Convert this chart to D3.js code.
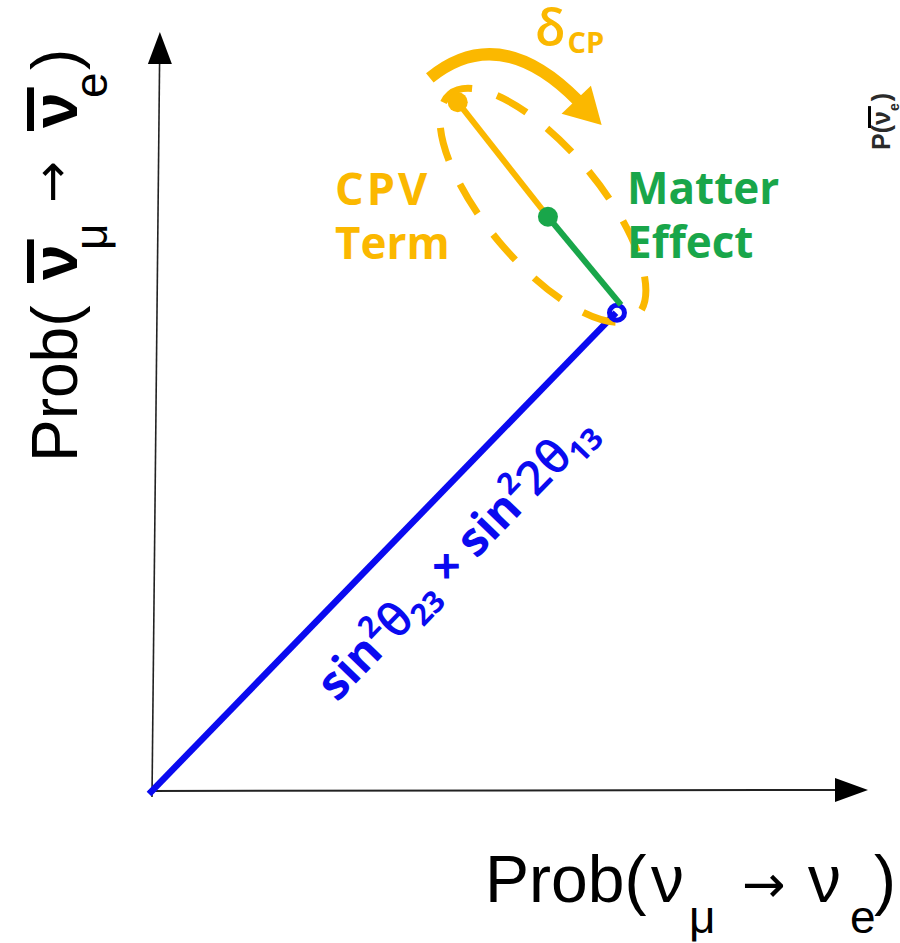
<!DOCTYPE html>
<html><head><meta charset="utf-8">
<script src="https://cdn.jsdelivr.net/npm/d3@7"></script>
<style>body{margin:0;background:#fff}svg{display:block}</style>
</head><body>
<svg id="c" width="900" height="943"></svg>
<script>
// ---- data (diagram coordinates, 1 unit = x-axis length) ----
const origin = [0, 0];
const xAxisTip = [1.0, 0.0014];
const yAxisTip = [0.011, 1.060];
const baseVector = [0.648, 0.668];      // sin²θ23 × sin²2θ13
const matterStart = [0.655, 0.679];
const matterEnd = [0.553, 0.802];       // matter effect
const cpvEnd = [0.427, 0.962];          // CPV term
const ellipseCenter = [0.546, 0.818];
const ellipseRadii = [0.2025, 0.0796];
const ellipseAngle = 50;                // degrees, screen rotation
const deltaArc = [[0.388, 0.996], [0.485, 1.075], [0.594, 0.965]];
const deltaHead = [[0.628, 0.930], [0.572, 0.946], [0.613, 0.985]];
const formulaLabel = ["sin", "2", "θ", "23", " × ", "sin", "2", "2θ", "13"];
const formulaRole  = ["n", "sup", "n", "sub", "n", "n", "sup", "n", "sub"];

const ORANGE = "#fbb800", GREEN = "#19a64a", BLUE = "#0a0af0";

const svg = d3.select("#c");
const x = d3.scaleLinear().domain([0, 1]).range([152, 868]);
const y = d3.scaleLinear().domain([0, 1]).range([791, 75]);
const P = p => [x(p[0]), y(p[1])];
const unit = x(1) - x(0);

// ---- axes ----
const ax = svg.append("g");
ax.append("line").attr("x1", x(0) - 4).attr("y1", y(0)).attr("x2", x(xAxisTip[0]) - 32).attr("y2", y(xAxisTip[1]))
  .attr("stroke", "#222").attr("stroke-width", 2);
{
  const [tx, ty] = P(xAxisTip);
  ax.append("path").attr("d", `M${tx},${ty} L${tx-33},${ty-12} L${tx-33},${ty+12} Z`).attr("fill", "#000");
}
ax.append("line").attr("x1", x(0)).attr("y1", y(0) + 6).attr("x2", x(yAxisTip[0]) - 0.3).attr("y2", y(yAxisTip[1]) + 30)
  .attr("stroke", "#222").attr("stroke-width", 1.6);
{
  const [tx, ty] = P(yAxisTip);
  ax.append("path").attr("d", `M${tx},${ty} L${tx-12},${ty+32} L${tx+12},${ty+32} Z`).attr("fill", "#000");
}

// ---- blue base vector ----
const [ox, oy] = P(origin), [bx, by] = P(baseVector);
svg.append("line").attr("x1", ox - 3).attr("y1", oy + 3).attr("x2", bx).attr("y2", by)
  .attr("stroke", BLUE).attr("stroke-width", 6.5);

// ---- dashed ellipse ----
const [ecx, ecy] = P(ellipseCenter);
svg.append("ellipse").attr("cx", 0).attr("cy", 0)
  .attr("rx", ellipseRadii[0] * unit).attr("ry", ellipseRadii[1] * unit)
  .attr("transform", `translate(${ecx},${ecy}) rotate(${ellipseAngle})`)
  .attr("fill", "none").attr("stroke", ORANGE).attr("stroke-width", 7)
  .attr("stroke-dasharray", "34 26").attr("stroke-dashoffset", 38);

// blue endpoint ring
svg.append("circle").attr("cx", bx + 1).attr("cy", by).attr("r", 7.5)
  .attr("fill", "none").attr("stroke", BLUE).attr("stroke-width", 5);

// ---- matter effect (green) and CPV (orange) ----
const [ms0, ms1] = P(matterStart), [me0, me1] = P(matterEnd), [ce0, ce1] = P(cpvEnd);
svg.append("line").attr("x1", me0).attr("y1", me1).attr("x2", ce0).attr("y2", ce1)
  .attr("stroke", ORANGE).attr("stroke-width", 6);
svg.append("line").attr("x1", ms0).attr("y1", ms1).attr("x2", me0).attr("y2", me1)
  .attr("stroke", GREEN).attr("stroke-width", 6);
svg.append("circle").attr("cx", ce0).attr("cy", ce1).attr("r", 10).attr("fill", ORANGE);
svg.append("circle").attr("cx", me0).attr("cy", me1).attr("r", 10).attr("fill", GREEN);

// ---- δCP curved arrow ----
{
  const a = deltaArc.map(P);
  svg.append("path").attr("d", `M${a[0][0]},${a[0][1]} Q${a[1][0]},${a[1][1]} ${a[2][0]},${a[2][1]}`)
    .attr("fill", "none").attr("stroke", ORANGE).attr("stroke-width", 12);
  const h = deltaHead.map(P);
  svg.append("path").attr("d", `M${h[0][0]},${h[0][1]} L${h[1][0]},${h[1][1]} L${h[2][0]},${h[2][1]} Z`)
    .attr("fill", ORANGE);
}

// ---- orange / green labels ----
const lab = (txt, lx, ly, col, size, weight) => svg.append("text").attr("x", lx).attr("y", ly)
  .attr("font-family", "Open Sans").attr("font-weight", weight).attr("font-size", size).attr("fill", col).text(txt);
lab("CPV", 335, 205, ORANGE, 45, 700).attr("letter-spacing", 3);
lab("Term", 335, 259, ORANGE, 44, 700);
lab("Matter", 627, 204, GREEN, 44, 700);
lab("Effect", 627, 258, GREEN, 44, 700);
{
  const t = svg.append("text").attr("x", 535).attr("y", 46).attr("font-family", "Open Sans").attr("fill", ORANGE);
  t.append("tspan").attr("font-size", 50).attr("font-weight", 600).text("δ");
  t.append("tspan").attr("font-size", 29).attr("font-weight", 700).attr("dx", 2).attr("dy", 7).text("CP");
}

// ---- rotated formula along the blue vector ----
{
  const ang = Math.atan2(by - oy, bx - ox) * 180 / Math.PI;
  const F = 47;
  const t = svg.append("text").attr("transform", `translate(337,703) rotate(${ang})`)
    .attr("font-family", "Open Sans").attr("font-weight", 700).attr("fill", BLUE);
  let shift = 0;
  formulaLabel.forEach((s, i) => {
    const r = formulaRole[i];
    const target = r === "sup" ? -0.42 * F : r === "sub" ? 0.2 * F : 0;
    const ts = t.append("tspan").attr("font-size", r === "n" ? F : 0.64 * F).attr("dy", target - shift).text(s);
    if (s.includes("θ")) ts.attr("font-weight", 600);
    shift = target;
  });
}

// ---- axis labels ----
function axisLabel(g, size, subSize, subDy, parts) {
  const t = g.append("text").attr("font-family", "Liberation Sans, Arial, sans-serif").attr("fill", "#000");
  let cur = 0;
  parts.forEach(p => {
    const target = p.sub ? subDy : (p.lift || 0);
    const ts = t.append("tspan").attr("x", p.x).attr("dy", target - cur)
      .attr("font-size", p.size || (p.sub ? subSize : size)).text(p.t);
    if (p.bold) ts.attr("font-weight", 700);
    if (p.arrow) ts.attr("font-family", "DejaVu Sans");
    cur = target;
  });
  return t;
}
function addBars(g, textEl, idxs, thick, gap) {
  const node = textEl.node();
  idxs.forEach(i => {
    const e = node.getExtentOfChar(i);
    g.append("rect").attr("x", e.x - 3).attr("y", e.y + gap).attr("width", e.width + 8).attr("height", thick).attr("fill", "#000");
  });
}
// y-axis label (rotated)
{
  const g = svg.append("g").attr("transform", "translate(77,462) rotate(-90)");
  const t = axisLabel(g, 64, 46, 30, [
    {t: "Prob(", x: 0}, {t: "ν", x: 182, bold: true}, {t: "μ", x: 212, sub: true},
    {t: "→", x: 259, size: 50, arrow: true, lift: -8}, {t: "ν", x: 334, bold: true}, {t: "e", x: 364, sub: true}, {t: ")", x: 392}
  ]);
  addBars(g, t, [5, 8], 7, 8);
}
// x-axis label
axisLabel(svg.append("g").attr("transform", "translate(0,902)"), 66, 46, 31, [
  {t: "Prob(", x: 485}, {t: "ν", x: 651}, {t: "μ", x: 689, sub: true},
  {t: "→", x: 742, size: 52, arrow: true}, {t: "ν", x: 808}, {t: "e", x: 850, sub: true}, {t: ")", x: 874}
]);

// ---- cropped neighbouring panel label at right edge ----
{
  const g = svg.append("g").attr("transform", "translate(890,150) rotate(-90)");
  const t = g.append("text").attr("font-family", "Liberation Sans, Arial, sans-serif").attr("font-weight", 700)
    .attr("font-size", 25).attr("fill", "#2a2a2a");
  t.append("tspan").text("P(");
  t.append("tspan").text("ν");
  t.append("tspan").attr("dy", 9).attr("font-size", 14).text("e");
  t.append("tspan").attr("dy", -9).attr("dx", 2).text(")");
  addBars(g, t, [2], 3, 1);
}
</script>
</body></html>
